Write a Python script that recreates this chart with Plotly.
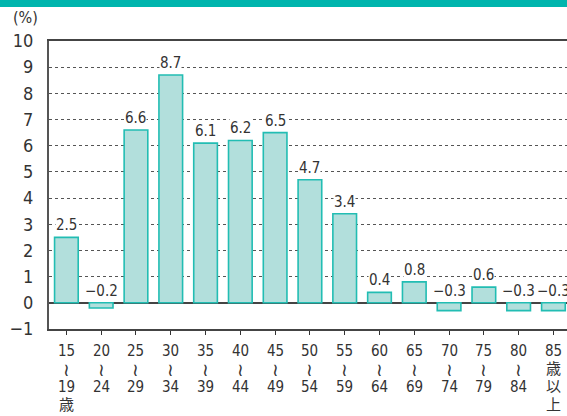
import plotly.graph_objects as go

age_from = ["15", "20", "25", "30", "35", "40", "45", "50", "55", "60", "65", "70", "75", "80", "85"]
age_to = ["19", "24", "29", "34", "39", "44", "49", "54", "59", "64", "69", "74", "79", "84", ""]
values = [2.5, -0.2, 6.6, 8.7, 6.1, 6.2, 6.5, 4.7, 3.4, 0.4, 0.8, -0.3, 0.6, -0.3, -0.3]
y_tickvals = [-1, 0, 1, 2, 3, 4, 5, 6, 7, 8, 9, 10]
y_ticktext = ["−1", "0", "1", "2", "3", "4", "5", "6", "7", "8", "9", "10"]
unit_label = "(%)"

FONT = "DejaVu Sans Condensed, DejaVu Sans, Noto Sans CJK JP, sans-serif"
WAVE_FONT = "DejaVu Sans, sans-serif"
W, H = 567, 416
ML, MT, MB = 49, 41, 87
PH = H - MT - MB

# build category label rows
label_rows = []
for i, (a, b) in enumerate(zip(age_from, age_to)):
    if b:
        rows = [a, "≀", b]
        if i == 0:
            rows.append("歳")
    else:
        rows = [a, "歳", "以", "上"]
    label_rows.append(rows)

x_idx = list(range(len(values)))

fig = go.Figure()
fig.add_trace(go.Bar(
    x=x_idx, y=values, width=0.68,
    marker=dict(color="#b2dfdc", line=dict(color="#22bdb3", width=1.6)),
    hoverinfo="skip",
))

def fmt(v):
    return ("−" if v < 0 else "") + f"{abs(v):.1f}"

for i, v in enumerate(values):
    fig.add_annotation(
        x=i, y=max(v, 0), text=fmt(v), showarrow=False,
        xref="x", yref="y", yanchor="bottom", yshift=2,
        bgcolor="white", borderpad=0,
        font=dict(family=FONT, size=15, color="#333"),
    )

row_offsets = [22, 40, 58, 76]
for i, rows in enumerate(label_rows):
    for k, t in enumerate(rows):
        is_wave = t == "≀"
        fig.add_annotation(
            x=i, y=0, xref="x", yref="paper", text=t, showarrow=False,
            yanchor="middle", xanchor="center", yshift=-row_offsets[k],
            font=dict(family=WAVE_FONT if is_wave else FONT,
                      size=18 if is_wave else 15, color="#333"),
        )

plot_w = W - ML
fig.add_annotation(
    x=-38 / plot_w, y=1 + 23 / PH, xref="paper", yref="paper",
    text=unit_label, showarrow=False, xanchor="left", yanchor="middle",
    font=dict(family=FONT, size=16, color="#333"),
)

# header band
fig.add_shape(type="rect", xref="paper", yref="paper",
              x0=-ML / plot_w, x1=1.05, y0=1 + (MT - 7) / PH,
              y1=1 + MT / PH + 0.01, fillcolor="#00b5ad", line_width=0,
              layer="above")

fig.update_layout(
    width=W, height=H,
    margin=dict(l=ML, r=0, t=MT, b=MB, pad=0),
    plot_bgcolor="white", paper_bgcolor="white",
    showlegend=False,
    font=dict(family=FONT, color="#333"),
    xaxis=dict(
        range=[-0.5, 14.39],
        tickmode="array", tickvals=x_idx, showticklabels=False,
        tickson="boundaries", ticks="outside", ticklen=4, tickwidth=1.2, tickcolor="#333",
        showline=True, linecolor="#444", linewidth=1.5, mirror=True,
        showgrid=False, zeroline=False,
        fixedrange=True,
    ),
    yaxis=dict(
        range=[-1, 10],
        tickmode="array", tickvals=y_tickvals, ticktext=y_ticktext,
        ticks="", ticklabelstandoff=10,
        showline=True, linecolor="#555", linewidth=2,
        showgrid=True, gridcolor="#555", griddash="dot", gridwidth=1,
        zeroline=True, zerolinecolor="#444", zerolinewidth=1.5,
        tickfont=dict(family=FONT, size=18, color="#333"),
        fixedrange=True,
    ),
)

fig.write_html("out.html", config={"displayModeBar": False},
               post_script="document.body.style.margin='0';document.body.style.overflow='hidden';")
